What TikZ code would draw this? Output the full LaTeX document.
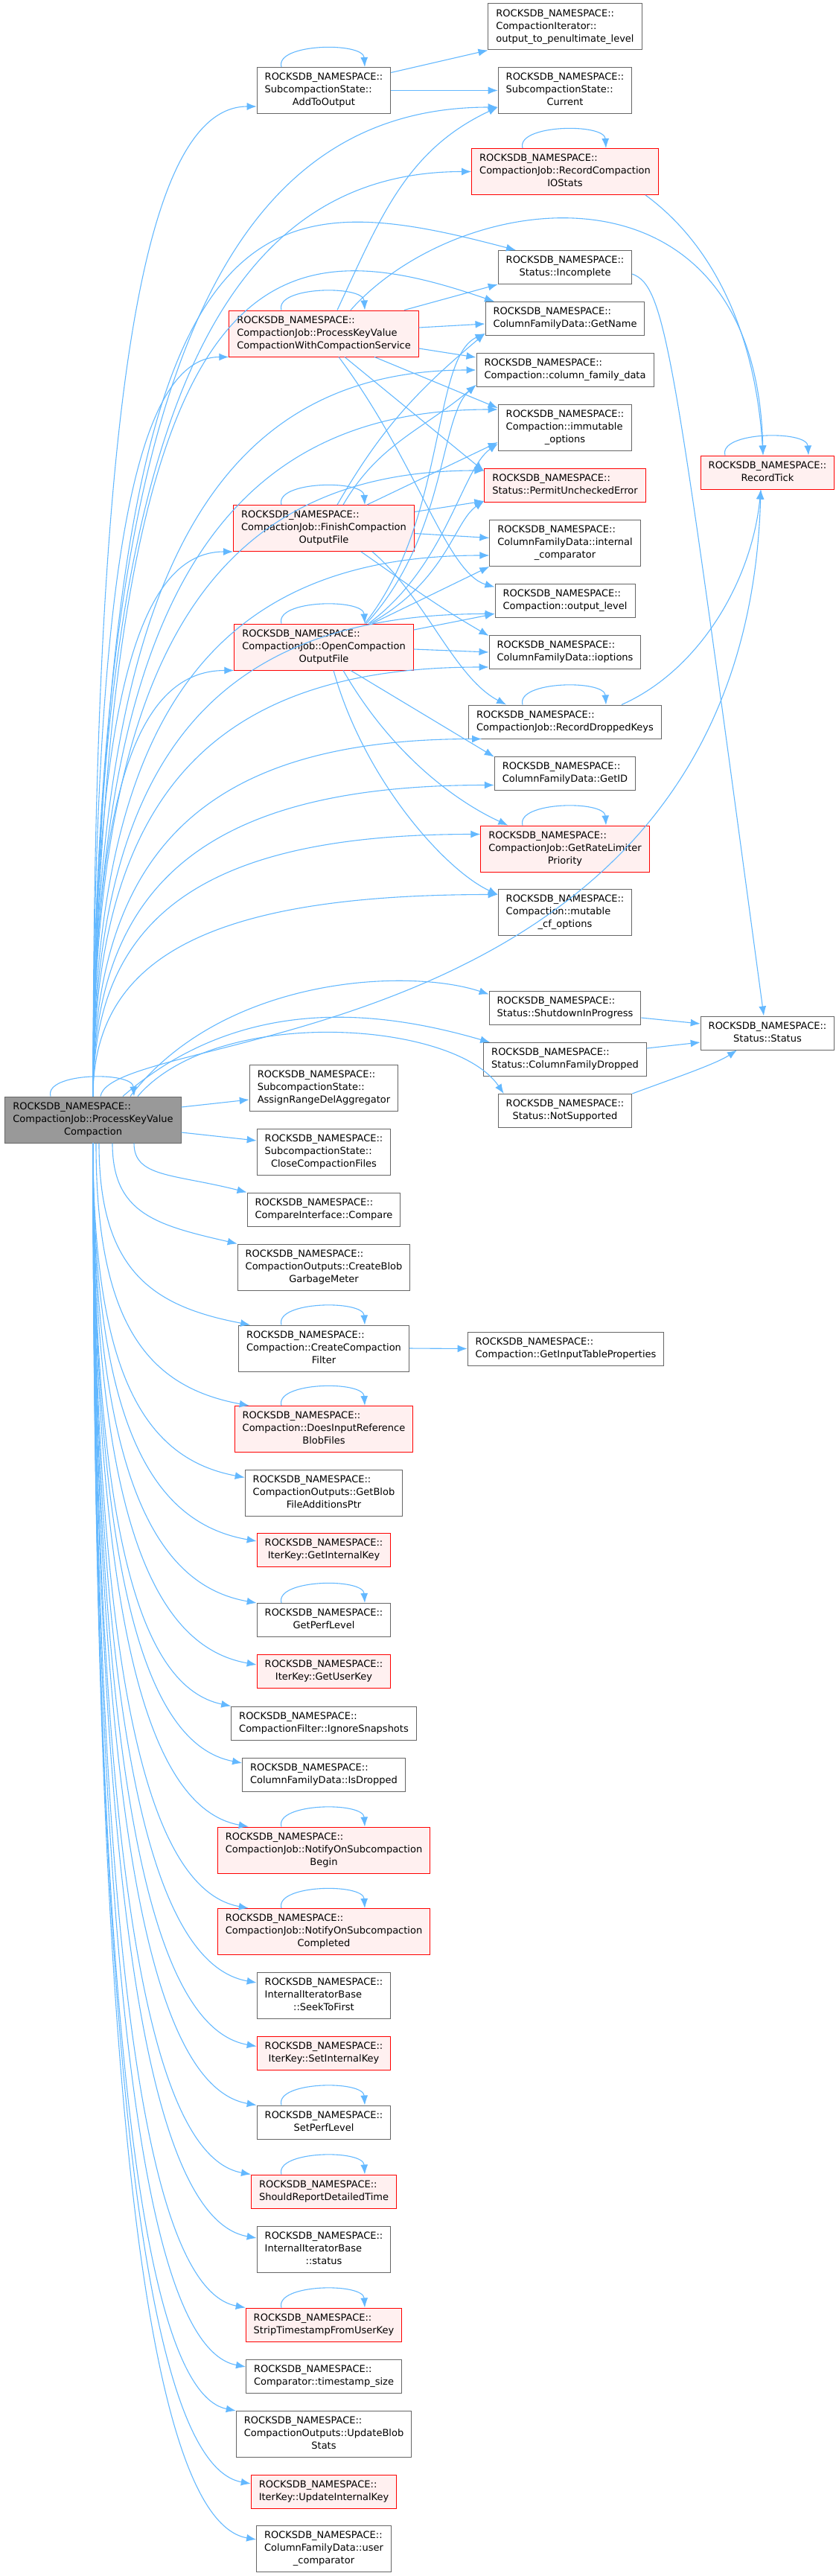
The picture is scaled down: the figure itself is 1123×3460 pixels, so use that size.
\documentclass[tikz,border=0pt]{standalone}
\usepackage{fontspec}
\setmainfont{DejaVu Sans}
\usetikzlibrary{arrows.meta,calc}

\definecolor{edgeblue}{HTML}{63B8FF}
\definecolor{boxgray}{HTML}{666666}
\definecolor{hotfill}{HTML}{FFF0F0}
\definecolor{rootfill}{HTML}{999999}

% labels: first lines to the left, last line centred
\newcommand{\twoline}[1]{\begin{tabular}{@{}l@{}}ROCKSDB\_NAMESPACE::\\\multicolumn{1}{@{}c@{}}{#1}\end{tabular}}
\newcommand{\threeline}[2]{\begin{tabular}{@{}l@{}}ROCKSDB\_NAMESPACE::\\#1\\\multicolumn{1}{@{}c@{}}{#2}\end{tabular}}
% calls
\newcommand{\selfloop}[1]{\draw[edge] ([xshift=-57pt]#1.north) .. controls ([shift={(-66pt,32pt)}]#1.north) and ([shift={(53pt,34pt)}]#1.north) .. ([xshift=55pt]#1.north);}
\newcommand{\callup}[1]{\draw[edge] let \p1=(M.north), \p2=(#1) in (\p1) .. controls (\x1,{\y1+0.7*((\y2)-(\y1))}) and ({\x1+0.3*((\x2)-(\x1))},\y2) .. (\p2);}
\newcommand{\calldown}[2][0pt]{\draw[edge] let \p1=([xshift=#1]M.south), \p2=(#2) in (\p1) .. controls (\x1,{\y1+0.7*((\y2)-(\y1))}) and ({\x1+0.35*((\x2)-(\x1))},{\y2+25}) .. (\p2);}

\begin{document}
\begin{tikzpicture}[x=1pt, y=1pt,
    box/.style={draw=boxgray, fill=white, line width=1pt, inner xsep=10.5pt, inner ysep=5.5pt, font=\fontsize{13}{17}\selectfont},
    hot/.style={box, draw=red, fill=hotfill},
    root/.style={box, fill=rootfill},
    edge/.style={draw=edgeblue, line width=1.1pt, -{Latex[length=13pt,width=10pt]}}]
    % 1. Picture area
    \useasboundingbox (0,0) rectangle (1123,-3460);

    % 2. Upper callees
    \node[box] (OTP) at (759,-36) {\threeline{CompactionIterator::}{output\_to\_penultimate\_level}};
    \node[box] (AO) at (435,-121.5) {\threeline{SubcompactionState::}{AddToOutput}};
    \node[box] (CUR) at (759,-121.5) {\threeline{SubcompactionState::}{Current}};
    \node[hot] (RCIO) at (759,-230.5) {\threeline{CompactionJob::RecordCompaction}{IOStats}};
    \node[box] (INC) at (759,-359) {\twoline{Status::Incomplete}};
    \node[box] (GN) at (759,-428) {\twoline{ColumnFamilyData::GetName}};
    \node[hot] (PKS) at (435,-448) {\threeline{CompactionJob::ProcessKeyValue}{CompactionWithCompactionService}};
    \node[box] (CFD) at (759,-497) {\twoline{Compaction::column\_family\_data}};
    \node[box] (IMO) at (759,-574.5) {\threeline{Compaction::immutable}{\_options}};
    \node[hot] (RT) at (1031,-634.5) {\twoline{RecordTick}};
    \node[hot] (PUE) at (759,-652) {\twoline{Status::PermitUncheckedError}};
    \node[hot] (FIN) at (435,-709.5) {\threeline{CompactionJob::FinishCompaction}{OutputFile}};
    \node[box] (ICMP) at (759,-729.5) {\threeline{ColumnFamilyData::internal}{\_comparator}};
    \node[box] (OL) at (759,-806.5) {\twoline{Compaction::output\_level}};
    \node[hot] (OPEN) at (435,-869) {\threeline{CompactionJob::OpenCompaction}{OutputFile}};
    \node[box] (IOPT) at (759,-876) {\twoline{ColumnFamilyData::ioptions}};
    \node[box] (RDK) at (759,-969.5) {\twoline{CompactionJob::RecordDroppedKeys}};
    \node[box] (GID) at (759,-1038.5) {\twoline{ColumnFamilyData::GetID}};
    \node[hot] (GRLP) at (759,-1140) {\threeline{CompactionJob::GetRateLimiter}{Priority}};
    \node[box] (MCF) at (759,-1225) {\threeline{Compaction::mutable}{\_cf\_options}};
    \node[box] (SIP) at (759,-1353.5) {\twoline{Status::ShutdownInProgress}};
    \node[box] (SS) at (1031,-1387.5) {\twoline{Status::Status}};
    \node[box] (CFDR) at (759,-1423) {\twoline{Status::ColumnFamilyDropped}};
    \node[box] (NS) at (759,-1492) {\twoline{Status::NotSupported}};

    % 3. The function itself
    \node[root] (M) at (125,-1504) {\threeline{CompactionJob::ProcessKeyValue}{Compaction}};

    % 4. Lower callees
    \node[box] (ARDA) at (435,-1461.5) {\threeline{SubcompactionState::}{AssignRangeDelAggregator}};
    \node[box] (CCF) at (435,-1547) {\threeline{SubcompactionState::}{CloseCompactionFiles}};
    \node[box] (CMP) at (435,-1624.5) {\twoline{CompareInterface::Compare}};
    \node[box] (CBGM) at (435,-1702) {\threeline{CompactionOutputs::CreateBlob}{GarbageMeter}};
    \node[box] (CCFLT) at (435,-1811) {\threeline{Compaction::CreateCompaction}{Filter}};
    \node[box] (GITP) at (760,-1811.5) {\twoline{Compaction::GetInputTableProperties}};
    \node[hot] (DIRB) at (435,-1919.5) {\threeline{Compaction::DoesInputReference}{BlobFiles}};
    \node[box] (GBFA) at (435,-2005) {\threeline{CompactionOutputs::GetBlob}{FileAdditionsPtr}};
    \node[hot] (GIK) at (435,-2082) {\twoline{IterKey::GetInternalKey}};
    \node[box] (GPL) at (435,-2176) {\twoline{GetPerfLevel}};
    \node[hot] (GUK) at (435,-2245) {\twoline{IterKey::GetUserKey}};
    \node[box] (IGS) at (435,-2314.5) {\twoline{CompactionFilter::IgnoreSnapshots}};
    \node[box] (ISD) at (435,-2384) {\twoline{ColumnFamilyData::IsDropped}};
    \node[hot] (NOB) at (435,-2485) {\threeline{CompactionJob::NotifyOnSubcompaction}{Begin}};
    \node[hot] (NOC) at (435,-2594.5) {\threeline{CompactionJob::NotifyOnSubcompaction}{Completed}};
    \node[box] (STF) at (435,-2680.5) {\threeline{InternalIteratorBase}{::SeekToFirst}};
    \node[hot] (SIK) at (435,-2757.5) {\twoline{IterKey::SetInternalKey}};
    \node[box] (SPL) at (435,-2850.5) {\twoline{SetPerfLevel}};
    \node[hot] (SRDT) at (435,-2943.5) {\twoline{ShouldReportDetailedTime}};
    \node[box] (IST) at (435,-3021.5) {\threeline{InternalIteratorBase}{::status}};
    \node[hot] (STUK) at (435,-3122.5) {\twoline{StripTimestampFromUserKey}};
    \node[box] (TSS) at (435,-3192) {\twoline{Comparator::timestamp\_size}};
    \node[box] (UBS) at (435,-3269.5) {\threeline{CompactionOutputs::UpdateBlob}{Stats}};
    \node[hot] (UIK) at (435,-3347) {\twoline{IterKey::UpdateInternalKey}};
    \node[box] (UCMP) at (435,-3423.5) {\threeline{ColumnFamilyData::user}{\_comparator}};

    % 5. Self calls
    \selfloop{AO} \selfloop{RCIO} \selfloop{PKS} \selfloop{FIN} \selfloop{OPEN}
    \selfloop{RDK} \selfloop{GRLP} \selfloop{RT} \selfloop{M} \selfloop{CCFLT}
    \selfloop{DIRB} \selfloop{GPL} \selfloop{NOB} \selfloop{NOC} \selfloop{SPL}
    \selfloop{SRDT} \selfloop{STUK}

    % 6. Calls going up from the function
    \callup{[yshift=10pt]AO.south west}
    \callup{[yshift=9pt]CUR.south west}
    \callup{RCIO.west}
    \callup{PKS.south west}
    \callup{CFD.west}
    \callup{[yshift=-7pt]IMO.north west}
    \callup{[yshift=-3pt]PUE.north west}
    \callup{FIN.south west}
    \callup{[yshift=15pt]ICMP.south west}
    \callup{OPEN.south west}
    \callup{[yshift=5pt]OL.south west}
    \callup{[yshift=3pt]IOPT.south west}
    \callup{[xshift=18pt]RDK.south west}
    \callup{[yshift=7pt]GID.south west}
    \callup{[yshift=-12pt]GRLP.north west}
    \callup{[yshift=-8pt]MCF.north west}
    \draw[edge] (M.north) .. controls (140,-250) and (330,-240) .. ([xshift=-66pt]INC.north);
    \draw[edge] (M.north) .. controls (140,-330) and (360,-300) .. ([xshift=-95pt]GN.north);
    \draw[edge] ([xshift=10pt]M.north) .. controls (150,-1380) and (1000,-1420) .. ([xshift=-9pt]RT.south);
    \draw[edge] ([xshift=50pt]M.north) .. controls (300,-1310) and (550,-1300) .. ([yshift=-5pt]SIP.north west);
    \draw[edge] ([xshift=40pt]M.north) .. controls (330,-1330) and (520,-1360) .. ([xshift=9pt]CFDR.north west);
    \draw[edge] ([xshift=60pt]M.north) .. controls (290,-1350) and (610,-1370) .. ([xshift=8pt]NS.north west);

    % 7. Calls going down from the function
    \draw[edge] ([yshift=17pt]M.east) -- ([yshift=-15.5pt]ARDA.west);
    \draw[edge] ([yshift=-17pt]M.east) -- ([yshift=15pt]CCF.west);
    \calldown[55pt]{CMP.north west}
    \calldown[26pt]{CBGM.north west}
    \calldown[8pt]{[xshift=16pt]CCFLT.north west}
    \calldown[4pt]{[xshift=20pt]DIRB.north west}
    \calldown{[yshift=-11pt]GBFA.north west}
    \calldown{[yshift=-11pt]GIK.north west}
    \calldown{GPL.north west}
    \calldown{[yshift=-14pt]GUK.north west}
    \calldown{IGS.north west}
    \calldown{[yshift=-7pt]ISD.north west}
    \calldown{[xshift=42pt]NOB.north west}
    \calldown{[xshift=42pt]NOC.north west}
    \calldown{[yshift=-14pt]STF.north west}
    \calldown{[yshift=-14pt]SIK.north west}
    \calldown{SPL.north west}
    \calldown{SRDT.north west}
    \calldown{[yshift=-16pt]IST.north west}
    \calldown{STUK.north west}
    \calldown{[yshift=-10pt]TSS.north west}
    \calldown{UBS.north west}
    \calldown{[yshift=-12pt]UIK.north west}
    \calldown{[yshift=-19pt]UCMP.north west}

    % 8. Calls of the upper callees
    \draw[edge] ([yshift=24pt]AO.east) -- (OTP.south west);
    \draw[edge] (AO.east) -- (CUR.west);
    \draw[edge] ([xshift=108pt]RCIO.south) .. controls (960,-330) and (1015,-450) .. ([xshift=-6pt]RT.north);
    \draw[edge] ([yshift=-9pt]INC.east) .. controls (895,-385) and (905,-470) .. ([xshift=-5pt]SS.north);
    \draw[edge] ([xshift=76pt]RDK.north) .. controls (940,-900) and (1010,-780) .. ([xshift=-9pt]RT.south);
    \draw[edge] ([yshift=-13.5pt]SIP.east) -- ([yshift=12.5pt]SS.west);
    \draw[edge] ([yshift=15pt]CFDR.east) -- ([yshift=-12.5pt]SS.west);
    \draw[edge] (NS.north east) .. controls (900,-1450) and (960,-1430) .. ([xshift=-41pt]SS.south);
    \draw[edge] (CCFLT.east) -- (GITP.west);

    % 9. ProcessKeyValueCompactionWithCompactionService
    \draw[edge] ([xshift=18pt]PKS.north) to[out=65,in=205] ([yshift=9pt]CUR.south west);
    \draw[edge] ([xshift=36pt]PKS.north) .. controls (620,-250) and (1015,-200) .. ([xshift=-6pt]RT.north);
    \draw[edge] ([xshift=108pt]PKS.north) -- (INC.south west);
    \draw[edge] ([yshift=8pt]PKS.east) -- ([yshift=-7pt]GN.west);
    \draw[edge] ([yshift=-20pt]PKS.east) -- ([yshift=17pt]CFD.west);
    \draw[edge] ([xshift=68pt]PKS.south) -- ([yshift=-5pt]IMO.north west);
    \draw[edge] ([xshift=28pt]PKS.south) -- ([yshift=-4pt]PUE.north west);
    \draw[edge] ([xshift=20pt]PKS.south) .. controls (560,-620) and (600,-770) .. ([yshift=-5pt]OL.north west);

    % 10. FinishCompactionOutputFile
    \draw[edge] ([xshift=18pt]FIN.north) to[out=60,in=220] ([yshift=3pt]GN.south west);
    \draw[edge] ([xshift=26pt]FIN.north) to[out=60,in=220] ([yshift=3pt]CFD.south west);
    \draw[edge] ([xshift=58pt]FIN.north) -- ([yshift=12pt]IMO.south west);
    \draw[edge] ([yshift=22pt]FIN.east) -- ([yshift=2pt]PUE.south west);
    \draw[edge] ([yshift=-7pt]FIN.east) -- ([yshift=7pt]ICMP.west);
    \draw[edge] ([xshift=50pt]FIN.south) to[out=-35,in=150] ([yshift=-1pt]IOPT.north west);
    \draw[edge] ([xshift=65pt]FIN.south) .. controls (570,-800) and (610,-910) .. ([xshift=51pt]RDK.north west);

    % 11. OpenCompactionOutputFile
    \draw[edge] ([xshift=55pt]OPEN.north) .. controls (600,-700) and (580,-480) .. ([yshift=3pt]GN.south west);
    \draw[edge] ([xshift=57pt]OPEN.north) .. controls (600,-720) and (590,-560) .. ([yshift=3pt]CFD.south west);
    \draw[edge] ([xshift=60pt]OPEN.north) .. controls (600,-760) and (620,-630) .. ([yshift=10pt]IMO.south west);
    \draw[edge] ([xshift=62pt]OPEN.north) .. controls (600,-780) and (610,-700) .. ([yshift=2pt]PUE.south west);
    \draw[edge] ([xshift=65pt]OPEN.north) -- (ICMP.south west);
    \draw[edge] ([yshift=23pt]OPEN.east) -- ([yshift=5pt]OL.south west);
    \draw[edge] ([yshift=-3pt]OPEN.east) -- (IOPT.west);
    \draw[edge] ([xshift=36pt]OPEN.south) -- ([yshift=-1pt]GID.north west);
    \draw[edge] ([xshift=26pt]OPEN.south) .. controls (530,-1020) and (620,-1080) .. ([xshift=37pt]GRLP.north west);
    \draw[edge] ([xshift=13pt]OPEN.south) .. controls (490,-1050) and (600,-1170) .. ([yshift=-8pt]MCF.north west);
\end{tikzpicture}
\end{document}
